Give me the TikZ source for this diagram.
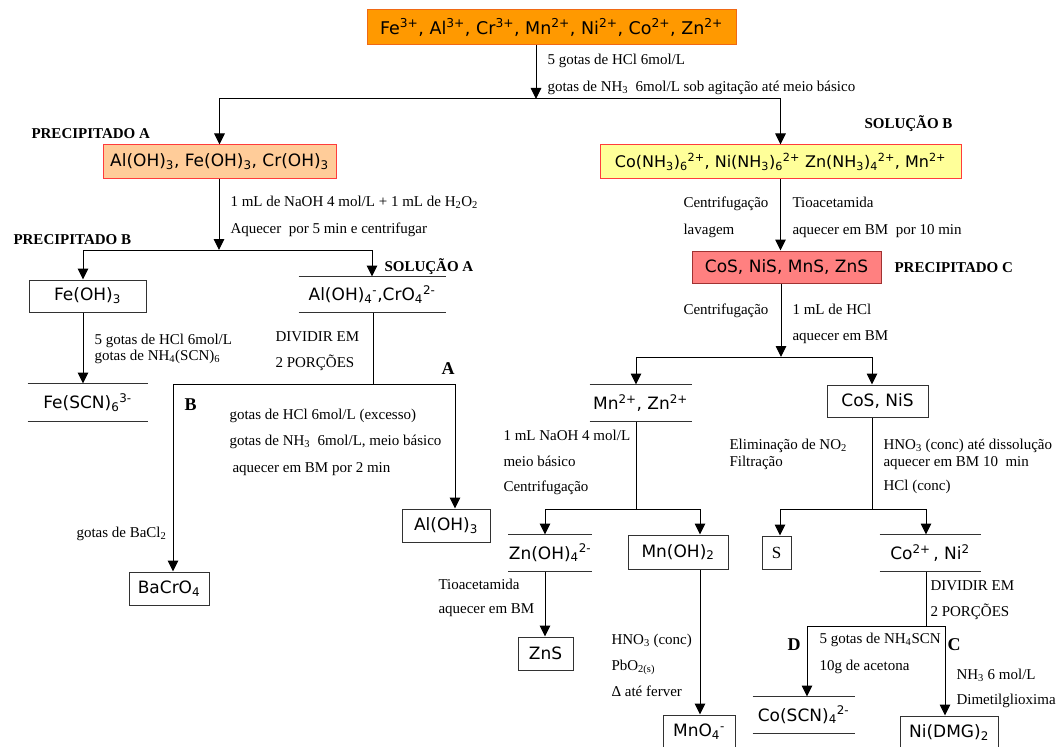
\documentclass[tikz,border=0pt]{standalone}
\usepackage{fontspec}
\setmainfont{Liberation Serif}
\newfontfamily\boxfont{DejaVu Sans}
\usetikzlibrary{arrows.meta}
\definecolor{topfill}{RGB}{255,153,0}
\definecolor{topline}{RGB}{240,105,20}
\definecolor{afill}{RGB}{255,204,153}
\definecolor{bfill}{RGB}{255,255,153}
\definecolor{redline}{RGB}{255,60,60}
\definecolor{cfill}{RGB}{255,128,128}
\definecolor{cline}{RGB}{160,50,50}
\definecolor{boxline}{RGB}{50,50,50}
\tikzset{
  arr/.style={-{Triangle[width=10.5pt,length=11pt]}},
  dims/.style 2 args={minimum width=#1pt, minimum height=#2pt},
  box/.style={draw=boxline, fill=white, inner sep=0pt, font=\boxfont\fontsize{17}{20}\selectfont},
  linebox/.style={inner sep=0pt, font=\boxfont\fontsize{17}{20}\selectfont,
    append after command={(\tikzlastnode.north west) edge[draw=boxline] (\tikzlastnode.north east)
      (\tikzlastnode.south west) edge[draw=boxline] (\tikzlastnode.south east)}},
  lbl/.style={anchor=west, inner sep=0pt, text height=10pt, text depth=3pt, font=\fontsize{15}{17}\selectfont},
  tag/.style={anchor=west, inner sep=0pt, font=\bfseries\fontsize{15}{17}\selectfont},
  letter/.style={anchor=west, inner sep=0pt, font=\bfseries\fontsize{18}{21}\selectfont}
}
\begin{document}
\begin{tikzpicture}[x=1pt,y=-1pt,line width=1pt]
  \useasboundingbox (0,0) rectangle (1056,746);
  % boxes
  \node[box, dims={369}{35}, fill=topfill, draw=topline, font=\boxfont\fontsize{17.5}{21}\selectfont] (top) at (551.5,27.5)
    {Fe\textsuperscript{3+}, Al\textsuperscript{3+}, Cr\textsuperscript{3+}, Mn\textsuperscript{2+}, Ni\textsuperscript{2+}, Co\textsuperscript{2+}, Zn\textsuperscript{2+}};
  \node[box, dims={233}{33}, fill=afill, draw=redline] (precA) at (219.5,161.5)
    {Al(OH)\textsubscript{3}, Fe(OH)\textsubscript{3}, Cr(OH)\textsubscript{3}};
  \node[box, dims={361}{33}, fill=bfill, draw=redline, font=\boxfont\fontsize{16}{19}\selectfont] (solB) at (780.5,161.5)
    {Co(NH\textsubscript{3})\textsubscript{6}\textsuperscript{2+}, Ni(NH\textsubscript{3})\textsubscript{6}\textsuperscript{2+} Zn(NH\textsubscript{3})\textsubscript{4}\textsuperscript{2+}, Mn\textsuperscript{2+}};
  \node[box, dims={117}{32}] (feoh) at (87.5,296) {Fe(OH)\textsubscript{3}};
  \node[linebox, dims={146}{35}] (aloh4) at (372,294.5) {Al(OH)\textsubscript{4}\textsuperscript{-},CrO\textsubscript{4}\textsuperscript{2-}};
  \node[linebox, dims={119}{37}] (fescn) at (87.5,402.5) {Fe(SCN)\textsubscript{6}\textsuperscript{3-}};
  \node[box, dims={80}{33}] (bacro) at (169,588.5) {BaCrO\textsubscript{4}};
  \node[box, dims={88}{33}] (aloh3) at (446,525.5) {Al(OH)\textsubscript{3}};
  \node[box, dims={189}{32}, fill=cfill, draw=cline] (precC) at (786.5,267) {CoS, NiS, MnS, ZnS};
  \node[linebox, dims={101}{36}] (mnzn) at (640.5,403) {Mn\textsuperscript{2+}, Zn\textsuperscript{2+}};
  \node[box, dims={101}{32}] (cosnis) at (877.5,401) {CoS, NiS};
  \node[linebox, dims={82}{36}] (znoh) at (550,553) {Zn(OH)\textsubscript{4}\textsuperscript{2-}};
  \node[box, dims={100}{34}] (mnoh) at (678,552) {Mn(OH)\textsubscript{2}};
  \node[box, dims={29}{33}, font=\fontsize{17}{20}\selectfont] (sbox) at (776.5,552.5) {S};
  \node[linebox, dims={100}{36}] (coni) at (930,553) {Co\textsuperscript{2+}\,, Ni\textsuperscript{2}};
  \node[box, dims={55}{33}] (zns) at (545.5,653.5) {ZnS};
  \node[box, dims={72}{33}] (mno4) at (699,731.5) {MnO\textsubscript{4}\textsuperscript{-}};
  \node[linebox, dims={101}{36}] (coscn) at (803.5,715) {Co(SCN)\textsubscript{4}\textsuperscript{2-}};
  \node[box, dims={98}{33}] (nidmg) at (949,732.5) {Ni(DMG)\textsubscript{2}};

  % titles
  \node[tag] (tA) at (31,134) {PRECIPITADO A};
  \node[tag] (tB) at (13,240) {PRECIPITADO B};
  \node[tag] (tC) at (894,268) {PRECIPITADO C};
  \node[tag] (sA) at (384,267) {SOLUÇÃO A};
  \node[tag] (sB) at (864,124) {SOLUÇÃO B};
  \node[letter] (pA) at (441,369) {A};
  \node[letter] (pB) at (184,405) {B};
  \node[letter] (pC) at (947,645) {C};
  \node[letter] (pD) at (787,645) {D};

  % split points
  \coordinate (s1) at (536,99);
  \coordinate (s2) at (219,250);
  \coordinate (s3) at (373,384);
  \coordinate (s4) at (781,357);
  \coordinate (s5) at (636,509);
  \coordinate (s6) at (872,509);
  \coordinate (s7) at (926,626);

  % connectors
  \draw[arr] (top.south -| s1) -- (s1);
  \draw[arr] (s1) -| (precA.north);
  \draw[arr] (s1) -| (solB.north);
  \draw[arr] (precA.south -| s2) -- (s2);
  \draw[arr] (s2) -| ([xshift=-4.5pt]feoh.north);
  \draw[arr] (s2) -| (aloh4.north);
  \draw[arr] ([xshift=-4.5pt]feoh.south) -- ([xshift=-4.5pt]fescn.north);
  \draw (aloh4.south -| s3) -- (s3);
  \draw[arr] (s3) -| ([xshift=4pt]bacro.north);
  \draw[arr] (s3) -| ([xshift=9pt]aloh3.north);
  \draw[arr] (solB.south) -- (solB.south |- precC.north);
  \draw[arr] (precC.south -| s4) -- (s4);
  \draw[arr] (s4) -| ([xshift=-4.5pt]mnzn.north);
  \draw[arr] (s4) -| ([xshift=-5.5pt]cosnis.north);
  \draw (mnzn.south -| s5) -- (s5);
  \draw[arr] (s5) -| ([xshift=-5pt]znoh.north);
  \draw[arr] (s5) -| ([xshift=22pt]mnoh.north);
  \draw (cosnis.south -| s6) -- (s6);
  \draw[arr] (s6) -| ([xshift=3.5pt]sbox.north);
  \draw[arr] (s6) -| ([xshift=-4pt]coni.north);
  \draw[arr] ([xshift=-5pt]znoh.south) -- ([xshift=-0.5pt]zns.north);
  \draw[arr] ([xshift=22pt]mnoh.south) -- ([xshift=1pt]mno4.north);
  \draw (coni.south -| s7) -- (s7);
  \draw[arr] (s7) -| ([xshift=3.5pt]coscn.north);
  \draw[arr] (s7) -| ([xshift=-4pt]nidmg.north);

  % labels
  \node[lbl] (t1) at (547,61) {5 gotas de HCl 6mol/L};
  \node[lbl] (t2) at (547,88) {gotas de NH\textsubscript{3}\ \ 6mol/L sob agitação até meio básico};
  \node[lbl] (t3) at (230,203) {1 mL de NaOH 4 mol/L + 1 mL de H\textsubscript{2}O\textsubscript{2}};
  \node[lbl] (t4) at (230,230) {Aquecer\ \ por 5 min e centrifugar};
  \node[lbl] (t5) at (94,341) {5 gotas de HCl 6mol/L};
  \node[lbl] (t6) at (94,357) {gotas de NH\textsubscript{4}(SCN)\textsubscript{6}};
  \node[lbl] (t7) at (275,338) {DIVIDIR EM};
  \node[lbl] (t8) at (275,364) {2 PORÇÕES};
  \node[lbl] (t9) at (229,416) {gotas de HCl 6mol/L (excesso)};
  \node[lbl] (t10) at (229,442) {gotas de NH\textsubscript{3}\ \ 6mol/L, meio básico};
  \node[lbl] (t11) at (232,469) {aquecer em BM por 2 min};
  \node[lbl] (t12) at (76,534) {gotas de BaCl\textsubscript{2}};
  \node[lbl] (t13) at (683,204) {Centrifugação};
  \node[lbl] (t14) at (683,231) {lavagem};
  \node[lbl] (t15) at (792,204) {Tioacetamida};
  \node[lbl] (t16) at (792,231) {aquecer em BM\ \ por 10 min};
  \node[lbl] (t17) at (683,311) {Centrifugação};
  \node[lbl] (t18) at (792,311) {1 mL de HCl};
  \node[lbl] (t19) at (792,337) {aquecer em BM};
  \node[lbl] (t20) at (503,437) {1 mL NaOH 4 mol/L};
  \node[lbl] (t21) at (503,463) {meio básico};
  \node[lbl] (t22) at (503,488) {Centrifugação};
  \node[lbl] (t23) at (729,446) {Eliminação de NO\textsubscript{2}};
  \node[lbl] (t24) at (729,463) {Filtração};
  \node[lbl] (t25) at (883,446) {HNO\textsubscript{3} (conc) até dissolução};
  \node[lbl] (t26) at (883,463) {aquecer em BM 10\ \ min};
  \node[lbl] (t27) at (883,487) {HCl (conc)};
  \node[lbl] (t28) at (438,586) {Tioacetamida};
  \node[lbl] (t29) at (438,610) {aquecer em BM};
  \node[lbl] (t30) at (611,641) {HNO\textsubscript{3} (conc)};
  \node[lbl] (t31) at (611,667) {PbO\textsubscript{2(s)}};
  \node[lbl] (t32) at (611,693) {Δ até ferver};
  \node[lbl] (t33) at (930,587) {DIVIDIR EM};
  \node[lbl] (t34) at (930,613) {2 PORÇÕES};
  \node[lbl] (t35) at (819,640) {5 gotas de NH\textsubscript{4}SCN};
  \node[lbl] (t36) at (819,667) {10g de acetona};
  \node[lbl] (t37) at (956,676) {NH\textsubscript{3} 6 mol/L};
  \node[lbl] (t38) at (956,701) {Dimetilglioxima};
\end{tikzpicture}
\end{document}
